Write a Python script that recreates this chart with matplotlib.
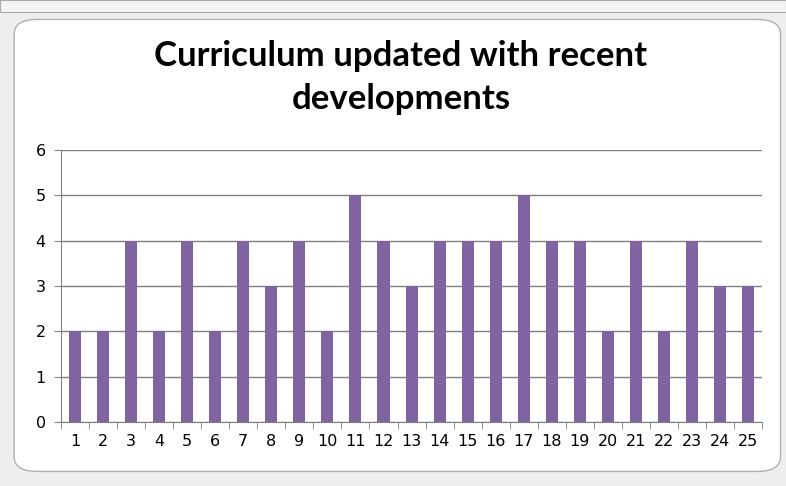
import matplotlib.pyplot as plt
from matplotlib.patches import FancyBboxPatch, Rectangle

# Data
categories = [str(i) for i in range(1, 26)]
values = [2, 2, 4, 2, 4, 2, 4, 3, 4, 2, 5, 4, 3, 4, 4, 4, 5, 4, 4, 2, 4, 2, 4, 3, 3]
yticks = [0, 1, 2, 3, 4, 5, 6]
title = "Curriculum updated with recent\ndevelopments"

fig = plt.figure(figsize=(7.86, 4.86), dpi=100)
fig.patch.set_facecolor("#eeeeee")

# Spreadsheet-like frame with rounded white chart area
fig.patches.append(Rectangle((0, 0.975), 1, 0.025, transform=fig.transFigure,
                             facecolor="#f4f4f4", edgecolor="#aaaaaa", lw=0.8,
                             zorder=-2))
fig.patches.append(FancyBboxPatch((0.018, 0.03), 0.975, 0.93,
                                  boxstyle="round,pad=0,rounding_size=0.03",
                                  transform=fig.transFigure,
                                  facecolor="white", edgecolor="#b0b0b0", lw=1,
                                  zorder=-1))

ax = fig.add_axes([0.0776, 0.1317, 0.892, 0.5597])
ax.set_facecolor("none")
x = list(range(len(categories)))
ax.bar(x, values, width=0.43, color="#8064A2", zorder=3)

ax.set_xlim(-0.5, len(categories) - 0.5)
ax.set_ylim(0, 6)
ax.set_yticks(yticks)
ax.set_xticks(x)
ax.set_xticklabels(categories)
ax.set_xticks([i + 0.5 for i in range(-1, len(categories))], minor=True)
ax.tick_params(axis="x", which="major", length=0, labelsize=11.5, pad=9)
ax.tick_params(axis="x", which="minor", length=5, color="#808080", direction="out")
ax.tick_params(axis="y", length=5, color="#808080", labelsize=11.5, pad=6)
ax.grid(axis="y", color="#808080", lw=1, zorder=0)

for s in ["top", "right"]:
    ax.spines[s].set_visible(False)
for s in ["left", "bottom"]:
    ax.spines[s].set_color("#808080")

fig.text(0.51, 0.84, title, ha="center", va="center", fontsize=25,
         fontweight="bold", family="Lato", linespacing=1.42)

fig.savefig("out.png", dpi=100, facecolor=fig.get_facecolor())
